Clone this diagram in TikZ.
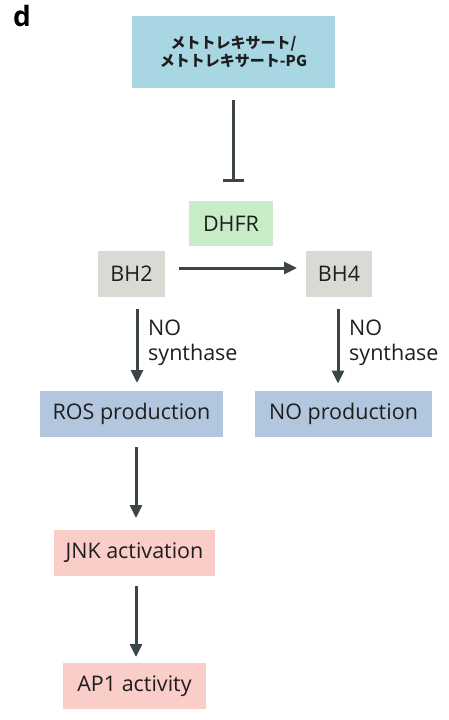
\documentclass[tikz,border=0pt]{standalone}
\usepackage{fontspec}
\setmainfont{Open Sans}
\newfontfamily\jpfont{Noto Sans CJK JP}
\usepackage{xcolor}
\usetikzlibrary{arrows.meta, positioning}
\definecolor{drugcol}{RGB}{168,214,226}
\definecolor{enzcol}{RGB}{200,236,198}
\definecolor{molcol}{RGB}{219,217,211}
\definecolor{prodcol}{RGB}{178,198,222}
\definecolor{sigcol}{RGB}{250,205,200}
\definecolor{arrcol}{RGB}{60,70,73}
\definecolor{txtcol}{RGB}{30,30,30}

\begin{document}
\begin{tikzpicture}[
        x=1pt, y=-1pt,
        box/.style={inner sep=0pt, outer sep=0pt, align=center, text=txtcol,
                    font=\fontsize{21.5}{25}\selectfont},
        drugbox/.style={box, fill=drugcol, minimum width=203pt, minimum height=72pt,
                        font=\jpfont\bfseries\fontsize{15}{17.5}\selectfont},
        enz/.style={box, fill=enzcol, minimum width=84pt, minimum height=45pt},
        mol/.style={box, fill=molcol, minimum width=67pt, minimum height=46pt},
        prod/.style={box, fill=prodcol, minimum height=46pt},
        sig/.style={box, fill=sigcol, minimum height=46pt},
        lbl/.style={anchor=west, align=left, inner sep=0pt, text=txtcol,
                    font=\fontsize{21.5}{25}\selectfont},
        arr/.style={-{Triangle[length=13pt, width=12pt]}, arrcol, line width=3pt},
        inh/.style={-{Bar[width=21pt, line width=3.5pt]}, arrcol, line width=3pt},
      ]
        \useasboundingbox (0,0) rectangle (448,720);

        % ── panel label ──
        \node[anchor=north west, inner sep=0pt, font=\bfseries\fontsize{28}{28}\selectfont]
          (panel) at (13,5) {d};

        % ── drug and enzyme ──
        \node[drugbox] (drug) at (233.5,52) {メトトレキサート/\\メトトレキサート-PG};
        \node[enz]     (dhfr) at (231,223.5) {DHFR};

        \draw[inh, shorten <=12pt, shorten >=19pt] (drug.south -| 233,0) -- (dhfr.north -| 233,0);

        % ── cofactors ──
        \node[mol] (bh2) at (131.5,274) {BH2};
        \node[mol, minimum width=66pt] (bh4) at (339,274) {BH4};

        \draw[arr, shorten <=14pt, shorten >=9pt]
          ([yshift=6pt]bh2.east) -- ([yshift=6pt]bh4.west);

        % ── products ──
        \node[prod, minimum width=183pt] (ros) at (131.5,414) {ROS production};
        \node[prod, minimum width=177pt] (nopr) at (343.5,413.5) {NO production};

        \draw[arr, shorten <=12pt, shorten >=8pt]
          ([xshift=5.5pt]bh2.south) -- ([xshift=5.5pt]bh2.south |- ros.north);
        \draw[arr, shorten <=12pt, shorten >=7pt]
          ([xshift=-1pt]bh4.south) -- ([xshift=-1pt]bh4.south |- nopr.north);

        \node[lbl] (nos1) at (148,343) {NO\\synthase};
        \node[lbl] (nos2) at (349,343) {NO\\synthase};

        % ── downstream signalling ──
        \node[sig, minimum width=161pt] (jnk) at (134.5,553) {JNK activation};
        \node[sig, minimum width=143pt] (ap1) at (134.5,686) {AP1 activity};

        \draw[arr, shorten <=10pt, shorten >=12pt]
          ([xshift=4.5pt]ros.south) -- ([xshift=4.5pt]ros.south |- jnk.north);
        \draw[arr, shorten <=10pt, shorten >=6pt]
          ([xshift=1.5pt]jnk.south) -- ([xshift=1.5pt]jnk.south |- ap1.north);
      \end{tikzpicture}
\end{document}
